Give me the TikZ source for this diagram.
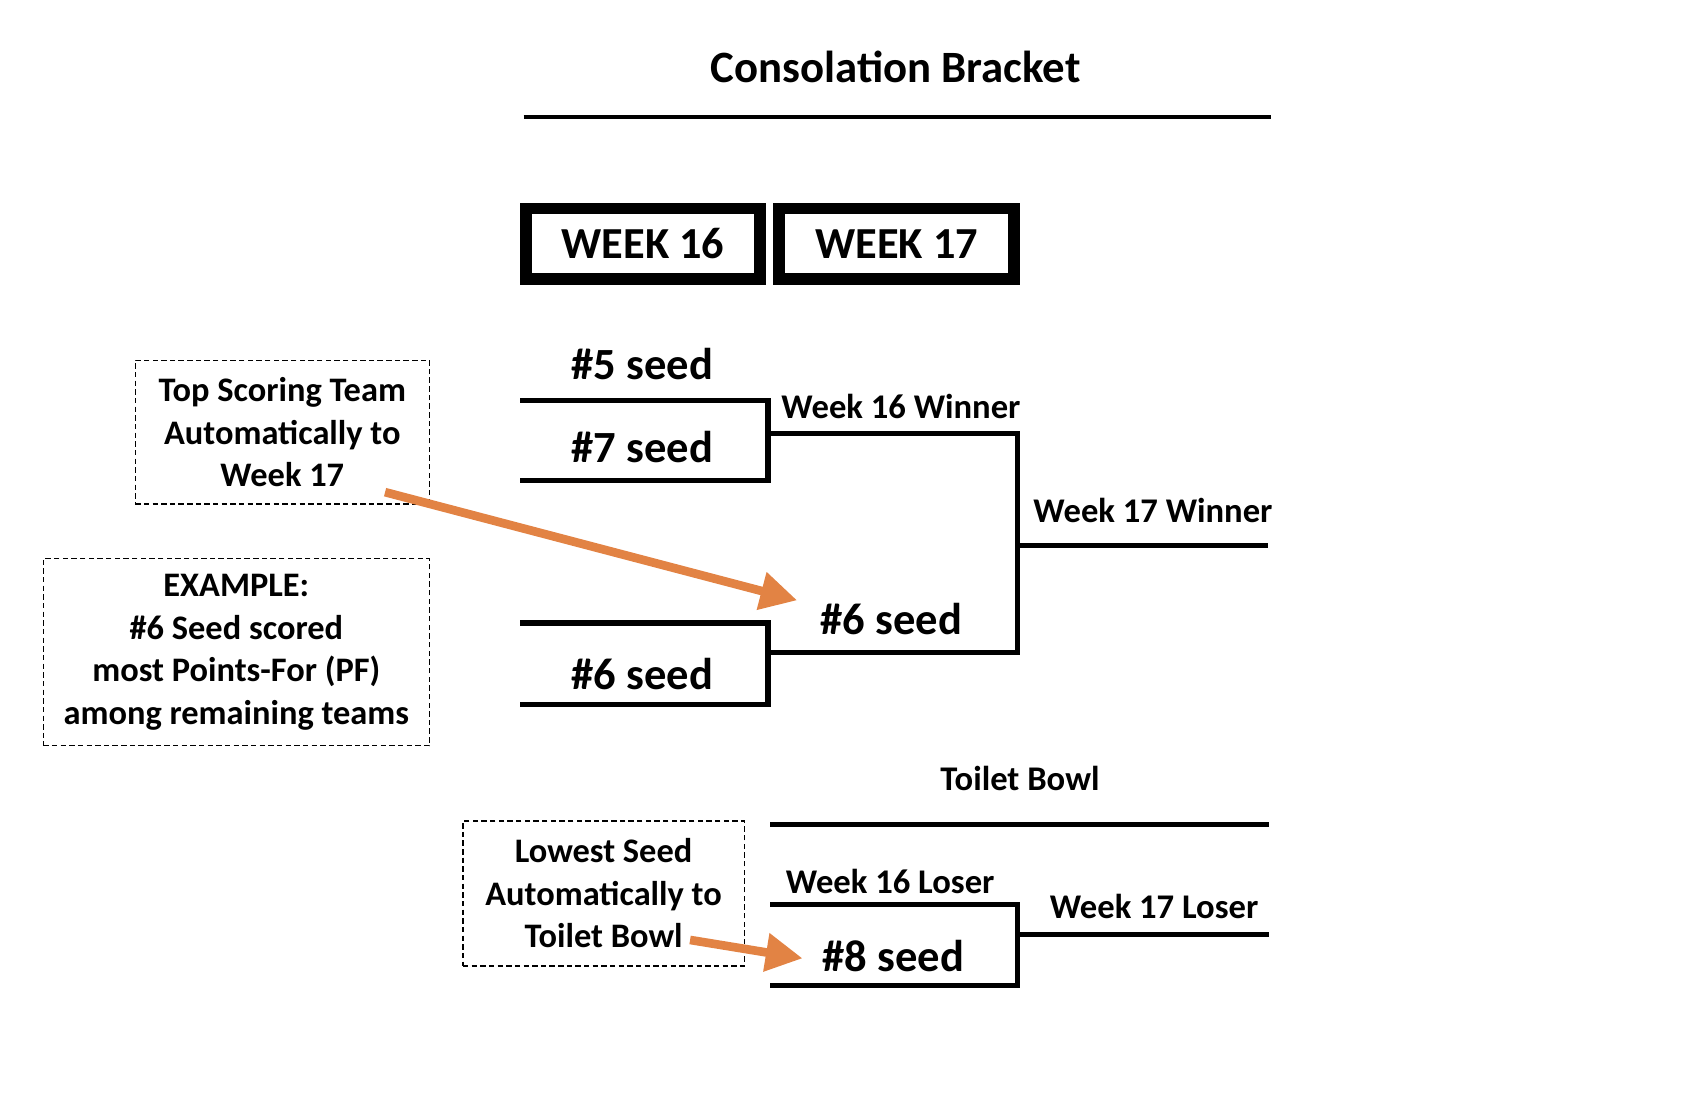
\documentclass[tikz,border=0pt]{standalone}
\usepackage{fontspec}
\setmainfont{Carlito}
\usetikzlibrary{arrows.meta}
\definecolor{hintorange}{RGB}{226,131,68}

\tikzset{
	bline/.style={line width=2.4pt},
	seed/.style={inner sep=0pt, font=\fontsize{20.6}{24}\selectfont\bfseries},
	lbl/.style={inner sep=0pt, font=\fontsize{16}{19}\selectfont\bfseries},
	weekbox/.style={draw, line width=5.5pt, inner sep=0pt, minimum height=32.75pt, font=\fontsize{20.5}{24}\selectfont\bfseries},
	notebox/.style={draw, line width=0.6pt, dash pattern=on 2.5pt off 1.5pt, align=center, inner sep=0pt, font=\fontsize{15.9}{19.6}\selectfont\bfseries},
	hint/.style={hintorange, line width=4pt, -{Triangle[length=17pt,width=17pt]}}
}

\begin{document}
\begin{tikzpicture}[x=0.5pt, y=-0.5pt]
				\useasboundingbox (0,0) rectangle (1568,1023);
				% title
				\node[seed, font=\fontsize{20.7}{24}\selectfont\bfseries] (title) at (828,62) {Consolation Bracket};
				\coordinate (rulel) at (484,108);
				\coordinate (ruler) at (1175,108);
				\draw[line width=2pt] (rulel) -- (ruler);
				\node[weekbox, minimum width=108pt] (wk16) at (594.5,225.5) {WEEK 16};
				\node[weekbox, minimum width=108.5pt] (wk17) at (829,225.5) {WEEK 17};
				% week 16 games
				\coordinate (a1) at (481,370);
				\coordinate (g1t) at (710,370);
				\coordinate (g1b) at (710,444);
				\coordinate (a2) at (481,444);
				\coordinate (g1m) at (710,401);
				\coordinate (b1) at (481,576);
				\coordinate (g2t) at (710,576);
				\coordinate (g2b) at (710,651);
				\coordinate (b2) at (481,651);
				\coordinate (g2m) at (710,603);
				\draw[bline] (a1) -- (g1t) -- (g1b) -- (a2);
				\draw[bline] (b1) -- (g2t) -- (g2b) -- (b2);
				% week 17 game
				\coordinate (f1t) at (941,401);
				\coordinate (f1b) at (941,603);
				\coordinate (f1m) at (941,504);
				\coordinate (champ) at (1172,504);
				\draw[bline] (g1m) -- (f1t) -- (f1b) -- (g2m);
				\draw[bline] (f1m) -- (champ);
				\node[seed] (s5) at (594,337) {\#5 seed};
				\node[seed] (s7) at (594,413) {\#7 seed};
				\node[seed] (s6a) at (594,623) {\#6 seed};
				\node[seed] (s6b) at (824,572) {\#6 seed};
				\node[lbl] (w16win) at (833,376) {Week 16 Winner};
				\node[lbl] (w17win) at (1066,472) {Week 17 Winner};
				% toilet bowl
				\node[lbl] (toilet) at (943,720) {Toilet Bowl};
				\coordinate (tl) at (712,762);
				\coordinate (tr) at (1173,762);
				\draw[bline] (tl) -- (tr);
				\coordinate (t1) at (712,836);
				\coordinate (t1r) at (941,836);
				\coordinate (t2r) at (941,911);
				\coordinate (t2) at (712,911);
				\coordinate (tm) at (941,864);
				\coordinate (tout) at (1173,864);
				\draw[bline] (t1) -- (t1r) -- (t2r) -- (t2);
				\draw[bline] (tm) -- (tout);
				\node[lbl] (w16lose) at (823,815) {Week 16 Loser};
				\node[lbl] (w17lose) at (1067,838) {Week 17 Loser};
				\node[seed] (s8) at (826,884) {\#8 seed};
				% notes
				\node[notebox, minimum width=136pt, minimum height=66.5pt] (topnote) at (261,399.5) {Top Scoring Team\\Automatically to\\Week 17};
				\node[notebox, minimum width=178.5pt, minimum height=86.5pt] (exnote) at (218.5,603) {EXAMPLE:\\\#6 Seed scored\\most Points-For (PF)\\among remaining teams};
				\node[notebox, minimum width=130pt, minimum height=67pt] (lownote) at (558,826) {Lowest Seed\\Automatically to\\Toilet Bowl};
				% arrows
				\coordinate (h1s) at (356,455);
				\coordinate (h1e) at (737,555);
				\coordinate (h2s) at (638,869);
				\coordinate (h2e) at (742,886);
				\draw[hint] (h1s) -- (h1e);
				\draw[hint] (h2s) -- (h2e);
			\end{tikzpicture}
\end{document}
